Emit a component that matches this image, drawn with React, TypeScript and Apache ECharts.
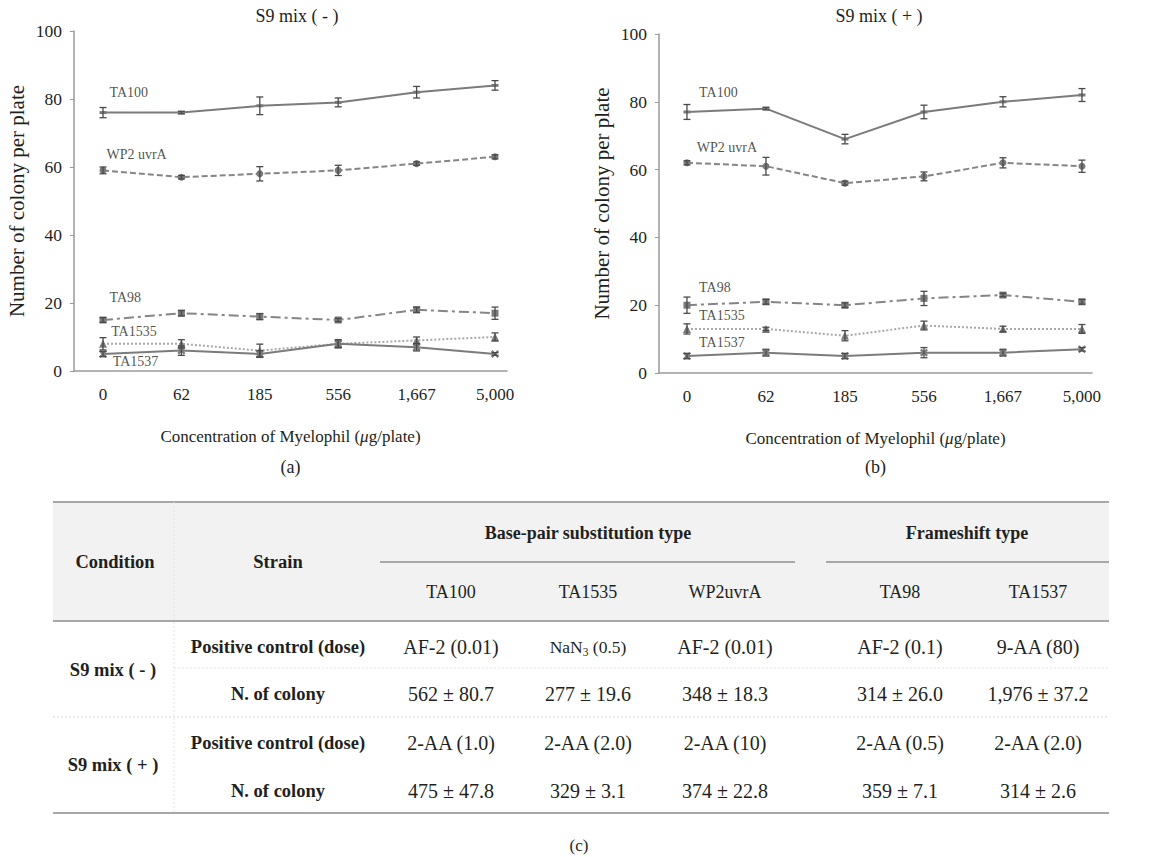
import React, { useEffect, useRef } from 'react';
import * as echarts from 'echarts';

// ---------- data ----------
const concentrations = ['0', '62', '185', '556', '1,667', '5,000'];
const strainNames = ['TA100', 'WP2 uvrA', 'TA98', 'TA1535', 'TA1537'];
const panelTitles = ['S9 mix ( - )', 'S9 mix ( + )'];
const panelLetters = ['(a)', '(b)'];

// S9 mix (-)
const TA100_minus = [76, 76, 78, 79, 82, 84];
const TA100_minus_err = [1.5, 0.4, 2.6, 1.3, 1.7, 1.4];
const WP2_minus = [59, 57, 58, 59, 61, 63];
const WP2_minus_err = [1.0, 0.5, 2.1, 1.5, 0.5, 0.6];
const TA98_minus = [15, 17, 16, 15, 18, 17];
const TA98_minus_err = [0.7, 0.8, 0.9, 0.5, 0.8, 1.8];
const TA1535_minus = [8, 8, 6, 8, 9, 10];
const TA1535_minus_err = [1.8, 1.2, 1.9, 1.1, 1.0, 1.2];
const TA1537_minus = [5, 6, 5, 8, 7, 5];
const TA1537_minus_err = [0.8, 1.4, 1.0, 1.2, 1.1, 0.4];

// S9 mix (+)
const TA100_plus = [77, 78, 69, 77, 80, 82];
const TA100_plus_err = [2.2, 0.4, 1.4, 2.0, 1.5, 1.9];
const WP2_plus = [62, 61, 56, 58, 62, 61];
const WP2_plus_err = [0.6, 2.6, 0.6, 1.3, 1.5, 1.8];
const TA98_plus = [20, 21, 20, 22, 23, 21];
const TA98_plus_err = [2.4, 0.7, 0.7, 2.1, 0.5, 0.7];
const TA1535_plus = [13, 13, 11, 14, 13, 13];
const TA1535_plus_err = [1.5, 0.5, 1.5, 1.3, 0.8, 1.3];
const TA1537_plus = [5, 6, 5, 6, 6, 7];
const TA1537_plus_err = [0.8, 1.0, 0.8, 1.5, 1.0, 0.5];

// table
const tableStrains = ['TA100', 'TA1535', 'WP2uvrA', 'TA98', 'TA1537'];
const tableGroups = ['Base-pair substitution type', 'Frameshift type'];
const conditions = ['S9 mix ( - )', 'S9 mix ( + )'];
const rowLabels = ['Positive control (dose)', 'N. of colony'];
const minusControls = ['AF-2 (0.01)', 'NaN3 (0.5)', 'AF-2 (0.01)', 'AF-2 (0.1)', '9-AA (80)'];
const minusColonies = ['562 ± 80.7', '277 ± 19.6', '348 ± 18.3', '314 ± 26.0', '1,976 ± 37.2'];
const plusControls = ['2-AA (1.0)', '2-AA (2.0)', '2-AA (10)', '2-AA (0.5)', '2-AA (2.0)'];
const plusColonies = ['475 ± 47.8', '329 ± 3.1', '374 ± 22.8', '359 ± 7.1', '314 ± 2.6'];

// ---------- layout / style ----------
const FONT = 'Liberation Serif, serif';
const TXT = '#231f20';
const AXIS = '#9a9a9a';

const panels = [
  { left: 74, top: 31, width: 433, height: 340, xmin: -0.37, xmax: 5.153, cx: 297 },
  { left: 659, top: 34, width: 433, height: 339, xmin: -0.354, xmax: 5.127, cx: 879 },
];
const labelPos = [
  [[0.09, 81.8], [0.05, 63.5], [0.09, 21.5], [0.11, 11.5], [0.13, 2.6]],
  [[0.16, 82.6], [0.13, 66.4], [0.16, 25], [0.16, 16.8], [0.16, 8.8]],
];
const xPath = 'path://M2,0L5,3L3,5L0,2L-3,5L-5,3L-2,0L-5,-3L-3,-5L0,-2L3,-5L5,-3Z';
const lineStyles: any[] = [
  { type: 'solid', color: '#7b7b7b', width: 2, symbol: 'rect', size: [7, 3] },
  { type: [6, 3], color: '#858585', width: 2, symbol: 'circle', size: 7 },
  { type: [10, 4, 3, 4], color: '#858585', width: 2, symbol: 'rect', size: 7 },
  { type: [2, 2], color: '#a8a8a8', width: 2, symbol: 'triangle', size: 8 },
  { type: 'solid', color: '#7b7b7b', width: 2, symbol: xPath, size: 8 },
];

const panelData = [
  {
    means: [TA100_minus, WP2_minus, TA98_minus, TA1535_minus, TA1537_minus],
    errs: [TA100_minus_err, WP2_minus_err, TA98_minus_err, TA1535_minus_err, TA1537_minus_err],
  },
  {
    means: [TA100_plus, WP2_plus, TA98_plus, TA1535_plus, TA1537_plus],
    errs: [TA100_plus_err, WP2_plus_err, TA98_plus_err, TA1535_plus_err, TA1537_plus_err],
  },
];

function errRender(params: any, api: any) {
  const x = api.value(0);
  const y = api.value(1);
  const e = api.value(2);
  const hi = api.coord([x, y + e]);
  const lo = api.coord([x, y - e]);
  const w = 3.5;
  const style = { stroke: '#4a4a4a', lineWidth: 1.3 };
  return {
    type: 'group',
    children: [
      { type: 'line', shape: { x1: hi[0], y1: hi[1], x2: lo[0], y2: lo[1] }, style },
      { type: 'line', shape: { x1: hi[0] - w, y1: hi[1], x2: hi[0] + w, y2: hi[1] }, style },
      { type: 'line', shape: { x1: lo[0] - w, y1: lo[1], x2: lo[0] + w, y2: lo[1] }, style },
    ],
  };
}

function txt(text: string, x: number, y: number, size: number, bold = false, extra: any = {}) {
  return {
    type: 'text',
    x,
    y,
    style: {
      text,
      fill: TXT,
      fontSize: size,
      fontFamily: FONT,
      fontWeight: bold ? 'bold' : 'normal',
      align: 'center',
      verticalAlign: 'middle',
      textAlign: 'center',
      textVerticalAlign: 'middle',
      ...extra,
    },
  };
}

function cellText(s: string, x: number, y: number) {
  if (s.startsWith('NaN3')) {
    return txt('{r|NaN}{s|3}{r|' + s.slice(4) + '}', x, y, 17.5, false, {
      rich: {
        r: { fontSize: 17.5, fontFamily: FONT, fill: TXT, lineHeight: 20 },
        s: { fontSize: 11.5, fontFamily: FONT, fill: TXT, lineHeight: 20, padding: [9, 0, 0, 0] },
      },
    });
  }
  return txt(s, x, y, 20);
}

export default function App() {
  const ref = useRef<HTMLDivElement>(null);
  useEffect(() => {
    const chart = echarts.init(ref.current!, null, { renderer: 'svg' });

    const grid = panels.map((p) => ({ left: p.left, top: p.top, width: p.width, height: p.height }));
    const xAxis = panels.map((p, i) => ({
      type: 'value',
      gridIndex: i,
      min: p.xmin,
      max: p.xmax,
      splitLine: { show: false },
      axisTick: { show: false },
      axisLine: { onZero: false, lineStyle: { color: AXIS, width: 1.5 } },
      axisLabel: {
        customValues: [0, 1, 2, 3, 4, 5],
        formatter: (v: number) => concentrations[Math.round(v)] ?? '',
        fontSize: 17,
        fontFamily: FONT,
        color: TXT,
        margin: 15,
      },
      name: 'Concentration of Myelophil ({i|μ}g/plate)',
      nameLocation: 'middle',
      nameGap: 57,
      nameTextStyle: {
        fontSize: 17,
        fontFamily: FONT,
        color: TXT,
        rich: { i: { fontStyle: 'italic', fontSize: 17, fontFamily: FONT, color: TXT } },
      },
    }));
    const yAxis = panels.map((p, i) => ({
      type: 'value',
      gridIndex: i,
      min: 0,
      max: 100,
      interval: 20,
      splitLine: { show: false },
      axisLine: { show: true, onZero: false, lineStyle: { color: AXIS, width: 1.5 } },
      axisTick: { show: true, length: 4, lineStyle: { color: AXIS } },
      axisLabel: { fontSize: 17.5, fontFamily: FONT, color: TXT, margin: 12 },
      name: 'Number of colony per plate',
      nameLocation: 'middle',
      nameGap: 47,
      nameTextStyle: { fontSize: 21, fontFamily: FONT, color: TXT },
    }));

    const series: any[] = [];
    panelData.forEach((pd, p) => {
      pd.means.forEach((m, s) => {
        const st = lineStyles[s];
        series.push({
          type: 'line',
          name: strainNames[s] + p,
          xAxisIndex: p,
          yAxisIndex: p,
          data: m.map((v, i) => [i, v]),
          symbol: st.symbol,
          symbolSize: st.size,
          showAllSymbol: true,
          lineStyle: { type: st.type, color: st.color, width: st.width },
          itemStyle: { color: '#7a7a7a' },
          z: 2,
        });
        series.push({
          type: 'custom',
          xAxisIndex: p,
          yAxisIndex: p,
          data: m.map((v, i) => [i, v, pd.errs[s][i]]),
          encode: { x: 0, y: 1 },
          renderItem: errRender,
          z: 3,
        });
      });
      series.push({
        type: 'scatter',
        xAxisIndex: p,
        yAxisIndex: p,
        symbolSize: 1,
        itemStyle: { color: 'rgba(0,0,0,0)' },
        data: labelPos[p].map((pos, s) => [pos[0], pos[1], strainNames[s]]),
        label: {
          show: true,
          position: [0, 0],
          align: 'left',
          verticalAlign: 'middle',
          formatter: (q: any) => q.data[2],
          fontSize: 14,
          fontFamily: FONT,
          color: TXT,
        },
        z: 4,
      });
    });

    // ---------- table ----------
    const tL = 53, tR = 1109, tTop = 502, tHeadBot = 621, tBot = 813, divX = 174;
    const colX = [451, 588, 725, 900, 1038];
    const rowY = [647, 694, 743, 791];
    const g: any[] = [];
    panels.forEach((p, i) => {
      g.push(txt(panelTitles[i], p.cx, 16, 18));
      g.push(txt(panelLetters[i], p.left + p.width / 2, 467, 18));
    });
    g.push({ type: 'rect', shape: { x: tL, y: tTop, width: tR - tL, height: tHeadBot - tTop }, style: { fill: '#f1f2f1' }, z: -1 });
    const hline = (x1: number, x2: number, y: number, stroke = '#a8a8a8', w = 2, dash: any = null) => ({
      type: 'line',
      shape: { x1, y1: y, x2, y2: y },
      style: { stroke, lineWidth: w, lineDash: dash },
    });
    g.push(hline(tL, tR, tTop));
    g.push(hline(tL, tR, tHeadBot));
    g.push(hline(tL, tR, tBot));
    g.push(hline(380, 795, 562));
    g.push(hline(826, tR, 562));
    g.push(hline(divX, tR, 668, '#e2e2e2', 1, [2, 2]));
    g.push(hline(tL, tR, 717, '#e2e2e2', 1.5, [2, 2]));
    g.push({ type: 'line', shape: { x1: divX, y1: tTop, x2: divX, y2: tBot }, style: { stroke: '#e4e4e4', lineWidth: 1, lineDash: [2, 2] } });

    g.push(txt('Condition', 115, 562, 18.5, true));
    g.push(txt('Strain', 278, 562, 18.5, true));
    g.push(txt(tableGroups[0], 588, 533, 18, true));
    g.push(txt(tableGroups[1], 967, 533, 18, true));
    tableStrains.forEach((s, i) => g.push(txt(s, colX[i], 592, 18)));
    g.push(txt(conditions[0], 113, 670, 18.5, true));
    g.push(txt(conditions[1], 113, 765, 18.5, true));
    rowY.forEach((y, r) => g.push(txt(rowLabels[r % 2], 278, y, 18.5, true)));
    [minusControls, minusColonies, plusControls, plusColonies].forEach((row, r) => {
      row.forEach((s, c) => g.push(cellText(s, colX[c], rowY[r])));
    });
    g.push(txt('(c)', 579, 845, 17));

    chart.setOption({
      animation: false,
      textStyle: { fontFamily: FONT },
      grid,
      xAxis,
      yAxis,
      series,
      graphic: g,
    });
    return () => chart.dispose();
  }, []);
  return <div ref={ref} style={{ position: 'absolute', left: 0, top: 0, width: 1158, height: 857, background: '#fff' }} />;
}
